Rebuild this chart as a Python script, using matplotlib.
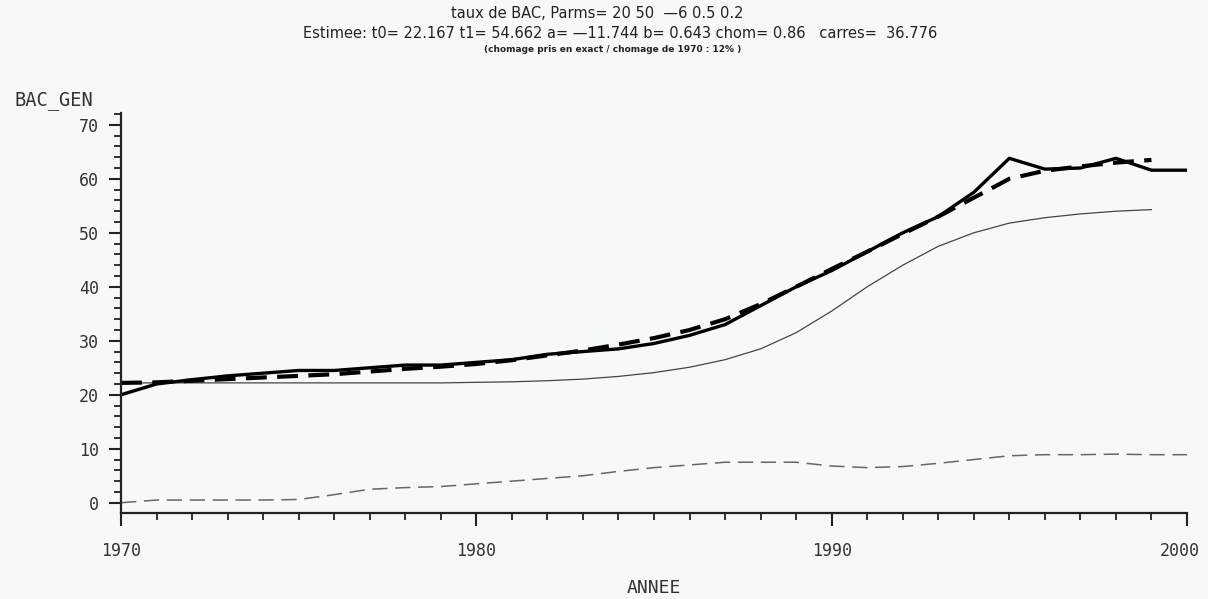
import matplotlib
matplotlib.use("Agg")
import matplotlib.pyplot as plt
from matplotlib.ticker import MultipleLocator
from matplotlib.transforms import ScaledTranslation

years = list(range(1970, 2001))
bac_gen = [20.0, 22.0, 22.8, 23.5, 24.0, 24.5, 24.5, 25.0, 25.5, 25.5,
           26.0, 26.5, 27.5, 28.0, 28.5, 29.5, 31.0, 33.0, 36.5, 40.0,
           43.0, 46.5, 50.0, 53.0, 57.5, 63.8, 61.8, 62.0, 63.8, 61.6, 61.6]

years_fit = list(range(1970, 2000))
bac_fit = [22.2, 22.3, 22.6, 22.9, 23.2, 23.5, 23.8, 24.3, 24.8, 25.2,
           25.7, 26.4, 27.3, 28.2, 29.3, 30.5, 32.0, 34.0, 36.8, 40.0,
           43.3, 46.5, 49.8, 53.0, 56.5, 60.0, 61.5, 62.3, 63.0, 63.5]
bac_nochom = [22.2, 22.2, 22.2, 22.2, 22.2, 22.2, 22.2, 22.2, 22.2, 22.2,
              22.3, 22.4, 22.6, 22.9, 23.4, 24.1, 25.1, 26.5, 28.5, 31.5,
              35.5, 40.0, 44.0, 47.5, 50.0, 51.8, 52.8, 53.5, 54.0, 54.3]

chomage = [0.0, 0.5, 0.5, 0.5, 0.5, 0.6, 1.5, 2.5, 2.8, 3.0,
           3.5, 4.0, 4.5, 5.0, 5.8, 6.5, 7.0, 7.5, 7.5, 7.5,
           6.8, 6.5, 6.7, 7.3, 8.0, 8.7, 8.9, 8.9, 9.0, 8.9, 8.9]

xticks = [1970, 1980, 1990, 2000]

title1 = "taux de BAC, Parms= 20 50  \u20146 0.5 0.2"
title2 = "Estimee: t0= 22.167 t1= 54.662 a= \u201411.744 b= 0.643 chom= 0.86   carres=  36.776"
title3 = "(chomage pris en exact / chomage de 1970 : 12% )"

bg = "#f6faf7"
fig = plt.figure(figsize=(12.08, 5.99), dpi=100, facecolor=bg)
ax = fig.add_axes([0.1002, 0.1436, 0.8824, 0.6678], facecolor=bg)

ax.plot(years_fit, bac_nochom, color="#444444", lw=0.9)
ax.plot(years, chomage, color="#666666", lw=1.1, dashes=(10, 5))
ax.plot(years, bac_gen, color="black", lw=2.4)
ax.plot(years_fit, bac_fit, color="black", lw=3.0, dashes=(5, 2.5))

ax.set_xlim(1970, 2000)
ax.set_ylim(-1.9, 72.2)
for s in ("top", "right"):
    ax.spines[s].set_visible(False)
for s in ("left", "bottom"):
    ax.spines[s].set_linewidth(1.6)
    ax.spines[s].set_color("#222222")

ax.xaxis.set_major_locator(MultipleLocator(10))
ax.xaxis.set_minor_locator(MultipleLocator(1))
ax.yaxis.set_major_locator(MultipleLocator(10))
ax.yaxis.set_minor_locator(MultipleLocator(2))
ax.tick_params(which="major", length=9, width=1.5, color="#222222")
ax.tick_params(which="minor", length=5, width=1.3, color="#222222")
ax.tick_params(axis="y", pad=7)
ax.tick_params(axis="x", pad=12)

ax.set_xticks(xticks)
ax.set_xticklabels([str(v) for v in xticks], family="DejaVu Sans Mono",
                   fontsize=12, color="#333333")
labs = ax.get_xticklabels()
labs[-1].set_transform(labs[-1].get_transform() + ScaledTranslation(-0.07, 0, fig.dpi_scale_trans))
for lab in ax.get_yticklabels():
    lab.set_family("DejaVu Sans Mono")
    lab.set_fontsize(12)
    lab.set_color("#333333")

fig.text(0.012, 1 - 101 / 599, "BAC_GEN", family="DejaVu Sans Mono", fontsize=13.5,
         color="#333333", va="center", ha="left")
fig.text(0.541, 1 - 588 / 599, "ANNEE", family="DejaVu Sans Mono", fontsize=13,
         color="#333333", va="center", ha="center")

fig.text(0.494, 1 - 14 / 599, title1, ha="center", va="center", fontsize=10.5, color="#222222")
fig.text(0.513, 1 - 33 / 599, title2, ha="center", va="center", fontsize=10.5, color="#222222")
fig.text(0.507, 1 - 50 / 599, title3, ha="center", va="center", fontsize=6.5,
         fontweight="bold", color="#222222")

fig.savefig("out.png", dpi=100, facecolor=bg)
